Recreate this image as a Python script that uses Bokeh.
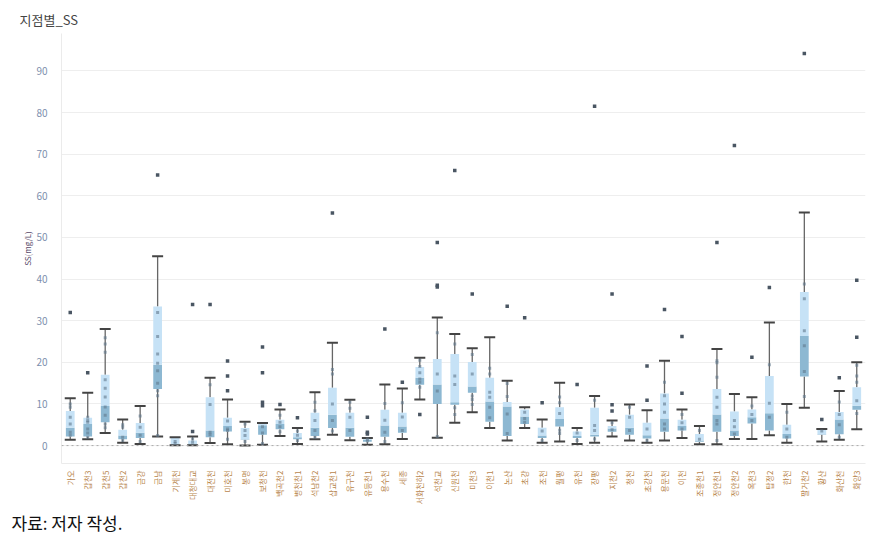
import math
from bokeh.plotting import figure
from bokeh.models import ColumnDataSource, Span, Title, FixedTicker, Range1d
from bokeh.embed import file_html
from bokeh.resources import INLINE

sites = ["가오", "갑천3", "갑천5", "갑천2", "금강", "금남", "기계천", "대청대교", "대전천", "미호천",
         "봉명", "보청천", "백곡천2", "병천천1", "석남천2", "삽교천1", "유구천", "유등천1", "용수천", "세종",
         "서화천하2", "석천교", "신원천", "미천3", "이천1", "논산", "초강", "조천", "월평", "유천",
         "장평", "지천2", "청천", "초강천", "용문천", "이천", "조종천1", "정안천1", "정안천2", "옥천3",
         "탑정2", "한천", "팔거천2", "황산", "화산천", "화양3"]

lower = [1.4, 1.5, 3.0, 0.7, 0.4, 2.2, 0.1, 0.1, 0.6, 0.3,
         0.0, 0.2, 2.3, 0.4, 1.5, 2.6, 1.3, 0.2, 0.3, 1.6,
         11.1, 1.9, 5.5, 8.0, 4.2, 1.2, 4.2, 0.7, 1.0, 0.4,
         0.7, 2.2, 1.2, 0.7, 1.2, 1.8, 0.3, 0.3, 1.6, 1.6,
         2.5, 0.7, 9.1, 1.0, 1.4, 3.9]
q1 = [2.2, 2.2, 5.6, 1.5, 1.8, 13.6, 0.2, 0.2, 2.0, 3.4,
      1.4, 2.6, 3.9, 1.5, 2.3, 4.2, 2.1, 0.9, 2.1, 3.1,
      14.6, 10.0, 9.8, 12.7, 5.7, 2.3, 5.2, 1.8, 4.6, 1.8,
      2.2, 3.3, 2.6, 1.7, 3.3, 3.6, 0.9, 3.3, 2.3, 5.3,
      3.6, 1.7, 16.6, 2.6, 2.7, 8.6]
median = [4.3, 5.2, 9.5, 2.4, 3.1, 19.4, 0.3, 0.5, 3.6, 4.7,
          1.5, 4.9, 5.2, 2.0, 4.3, 7.4, 4.3, 1.4, 4.8, 4.6,
          16.3, 14.7, 10.4, 14.2, 10.6, 9.4, 7.0, 2.4, 6.4, 2.3,
          2.6, 4.1, 4.3, 2.5, 6.5, 4.7, 1.2, 7.5, 3.6, 6.8,
          7.8, 2.8, 26.3, 2.7, 6.25, 9.6]
q3 = [8.3, 6.7, 17.0, 3.8, 5.4, 33.4, 2.0, 1.2, 11.6, 6.7,
      4.2, 5.4, 6.2, 3.0, 7.9, 13.9, 7.9, 1.8, 8.6, 7.9,
      18.9, 20.8, 22.0, 20.1, 16.3, 10.5, 8.7, 4.3, 9.2, 3.4,
      9.1, 4.7, 7.4, 5.5, 12.5, 6.2, 2.8, 13.6, 8.2, 8.7,
      16.7, 5.0, 36.9, 4.0, 8.1, 14.0]
upper = [11.4, 12.7, 28.0, 6.25, 9.5, 45.5, 2.0, 2.2, 16.3, 11.1,
         5.7, 5.4, 8.7, 4.2, 12.8, 24.7, 11.0, 1.8, 14.7, 13.7,
         21.1, 30.8, 26.8, 23.4, 26.0, 15.6, 9.2, 6.25, 15.1, 4.2,
         11.9, 6.0, 9.9, 8.5, 20.4, 8.7, 4.7, 23.2, 12.4, 11.6,
         29.6, 10.0, 56.0, 4.0, 13.1, 20.0]

outliers = [[32.0], [17.5], [], [], [], [65.0], [], [33.9, 3.4], [33.9], [20.3, 16.7, 13.2],
            [], [23.7, 17.5, 10.4, 9.6], [9.9], [6.7], [], [55.9], [], [6.8, 3.2, 2.8], [28.0], [15.2],
            [7.5], [48.8, 38.5, 38.1], [66.1], [36.4], [], [33.5], [30.7], [10.3], [], [14.7],
            [81.5], [36.4, 9.8, 8.3], [], [19.1, 10.9], [32.7], [26.2, 12.6], [], [48.8], [72.1], [21.2],
            [38.0], [], [94.2], [6.25], [16.3], [39.7, 26.0]]

points = [[9.2, 6.8, 5.2, 3.2, 2.5, 10.0], [4.0, 5.6, 6.0, 3.0, 2.0, 6.8], [25.9, 24.4, 22.4, 15.8, 13.8, 11.7, 9.3, 7.3, 5.2, 4.3],
          [5.0, 4.4, 2.0, 1.2], [7.1, 4.4, 2.5, 1.0], [32.0, 26.2, 22.0, 19.8, 18.0, 15.0, 12.0, 13.2, 2.4],
          [1.0, 0.5], [1.6, 0.8], [14.6, 9.9, 3.2, 2.6], [5.9, 4.0, 3.6, 1.5],
          [5.2, 3.6, 2.4, 1.0], [4.5, 3.0, 0.5], [7.3, 5.6, 4.5, 3.3], [3.5, 2.5, 1.2], [10.4, 8.4, 6.0, 3.6, 2.0],
          [18.3, 17.2, 10.0, 6.0, 3.5], [10.4, 9.0, 6.8, 3.6], [1.6, 1.1], [10.1, 6.1, 3.2, 1.0], [10.3, 6.9, 3.6],
          [20.5, 19.0, 17.5, 16.0, 15.2, 14.0], [27.1, 17.2, 13.1, 2.2], [24.4, 16.7, 14.7, 9.1, 7.5], [21.9, 17.2, 11.9, 11.1, 9.9],
          [18.6, 17.2, 12.8, 11.6, 9.2, 6.7], [14.9, 11.8, 7.6, 2.9], [8.0, 6.5, 5.6], [3.5, 1.2], [11.7, 10.3, 7.7, 3.7, 2.9],
          [3.0, 1.2], [10.9, 4.8, 3.6, 1.6], [5.5, 3.8], [9.2, 6.8, 3.6], [4.0, 1.2], [15.2, 12.0, 10.0, 8.0, 5.2, 4.0],
          [7.5, 5.5, 4.0], [3.6, 1.5], [20.4, 19.9, 16.4, 11.6, 9.2, 6.0, 5.2, 1.2], [6.0, 4.5, 2.8], [9.5, 7.5, 6.0],
          [19.4, 10.2, 6.8], [8.0, 4.0, 2.0], [38.8, 35.3, 27.6, 24.0, 17.8, 11.8], [3.5], [10.5, 7.5, 5.0, 2.0],
          [19.3, 16.7, 15.2, 10.8, 7.7]]

y_ticks = [0, 10, 20, 30, 40, 50, 60, 70, 80, 90]

FONT = "Noto Sans CJK KR"

src = ColumnDataSource(dict(site=sites, lower=lower, q1=q1, med=median, q3=q3, upper=upper))

ox, oy = [], []
for s, vals in zip(sites, outliers):
    for v in vals:
        ox.append(s); oy.append(v)
px, py = [], []
for s, vals in zip(sites, points):
    for v in vals:
        px.append(s); py.append(v)

p = figure(x_range=sites, y_range=Range1d(-4.3, 99), width=876, height=534,
           output_backend="svg", toolbar_location=None,
           min_border_left=61, min_border_right=11, min_border_top=33, min_border_bottom=0)

p.title.text = "지점별_SS"
p.title.text_font = FONT
p.title.text_font_size = "13px"
p.title.text_font_style = "normal"
p.title.text_color = "#444444"
p.title.align = "left"
p.title.offset = -42

cap = Title(text="자료: 저자 작성.", align="left", text_font=FONT, text_font_size="17px",
            text_font_style="normal", text_color="#111111", offset=-50, standoff=0)
p.add_layout(cap, "below")

p.outline_line_color = None
p.xgrid.grid_line_color = None
p.ygrid.grid_line_color = "#eeeeee"
p.ygrid.ticker = FixedTicker(ticks=y_ticks)

p.yaxis.ticker = FixedTicker(ticks=y_ticks)
p.yaxis.axis_label = "SS(mg/L)"
p.yaxis.axis_label_text_font = FONT
p.yaxis.axis_label_text_font_size = "8px"
p.yaxis.axis_label_text_font_style = "normal"
p.yaxis.axis_label_text_color = "#5a4a6a"
p.yaxis.axis_label_standoff = 0
p.yaxis.major_label_text_font = FONT
p.yaxis.major_label_text_font_size = "10px"
p.yaxis.major_label_text_color = "#7d8fae"
p.yaxis.axis_line_color = "#ebebeb"
p.yaxis.major_tick_line_color = None
p.yaxis.minor_tick_line_color = None
p.yaxis.major_label_standoff = 8

p.xaxis.major_label_orientation = math.pi / 2
p.xaxis.major_label_text_font = FONT
p.xaxis.major_label_text_font_size = "8px"
p.xaxis.major_label_text_color = "#b8864e"
p.xaxis.axis_line_color = "#ebebeb"
p.xaxis.major_tick_line_color = None
p.xaxis.major_label_standoff = 1

p.add_layout(Span(location=0, dimension="width", line_color="#aaaaaa", line_dash="2 3", line_width=1))

p.segment(x0="site", y0="q3", x1="site", y1="upper", source=src, line_color="#666666", line_width=1.3)
p.segment(x0="site", y0="lower", x1="site", y1="q1", source=src, line_color="#666666", line_width=1.3)
p.vbar(x="site", width=0.5, bottom="q1", top="med", source=src, fill_color="#8db8d2", line_color=None)
p.vbar(x="site", width=0.5, bottom="med", top="q3", source=src, fill_color="#c6e2f6", line_color=None)
p.scatter(x="site", y="upper", source=src, marker="dash", size=11, line_color="#444444", line_width=2)
p.scatter(x="site", y="lower", source=src, marker="dash", size=11, line_color="#444444", line_width=2)

p.scatter(x=px, y=py, marker="square", size=3, fill_color="#60788c", line_color=None, fill_alpha=0.6)
p.scatter(x=ox, y=oy, marker="square", size=3.5, fill_color="#4a5663", line_color=None)

open("out.html", "w").write(file_html(p, INLINE))
